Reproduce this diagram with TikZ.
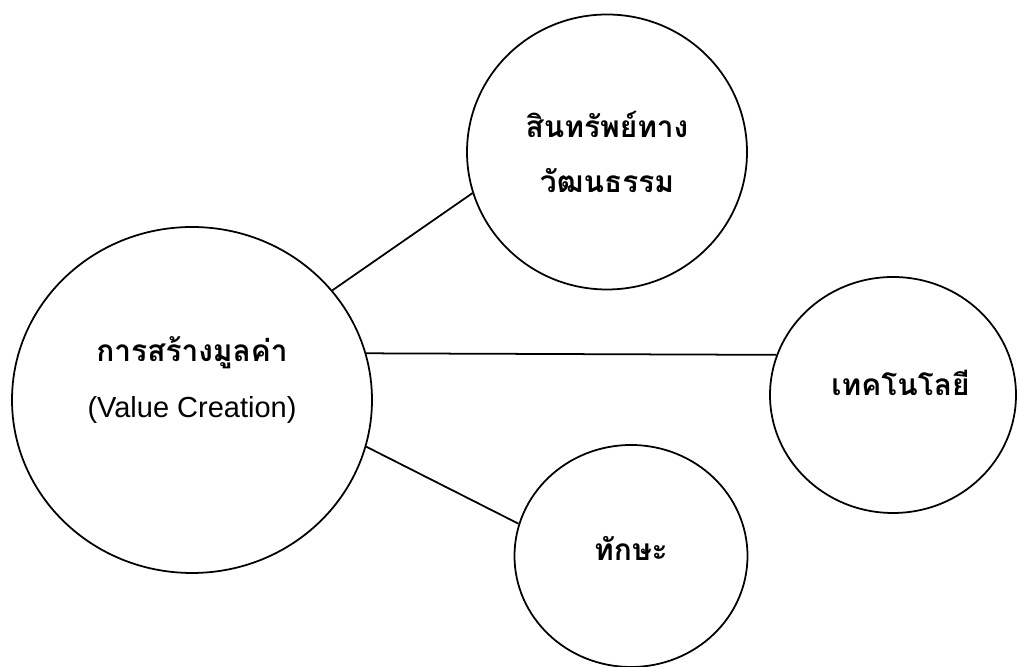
\documentclass[tikz,border=0pt]{standalone}
\usepackage{fontspec}
\setmainfont{Liberation Sans}
\newfontfamily\thaifont[Script=Thai]{Loma}
\usepackage{tikz}
\usetikzlibrary{shapes.geometric}

\begin{document}
\begin{tikzpicture}[thick,line width=1pt,
                    main node/.style={ellipse,draw,inner sep=0pt},
                    thai/.style={font=\thaifont\fontsize{17}{31}\selectfont\bfseries}]
  \useasboundingbox (0,0) rectangle (20.34,13.34);

  \node[main node,minimum width=7.2cm,minimum height=6.92cm] (value) at (3.84,5.34) {};
  \node[main node,minimum width=5.6cm,minimum height=5.5cm,thai,align=center] (asset) at (12.14,10.3) {สินทรัพย์ทาง\\วัฒนธรรม};
  \node[main node,minimum width=4.92cm,minimum height=4.72cm,thai] (tech) at (17.86,5.44) {\hspace*{3mm}\raisebox{5mm}{เทคโนโลยี}};
  \node[main node,minimum width=4.66cm,minimum height=4.44cm,thai] (skill) at (12.62,2.22) {\raisebox{3mm}{ทักษะ}};

  \node[align=center] (valuetext) at ([yshift=4mm]value.center)
    {{\thaifont\fontsize{17}{26}\selectfont\bfseries การสร้างมูลค่า}\\[5mm]
     {\fontsize{16.5}{20}\selectfont (Value Creation)}};

  \path
    (value.38)  edge (asset.197)
    (value.15)  edge (tech.161)
    (value.345) edge (skill.164);
\end{tikzpicture}
\end{document}
